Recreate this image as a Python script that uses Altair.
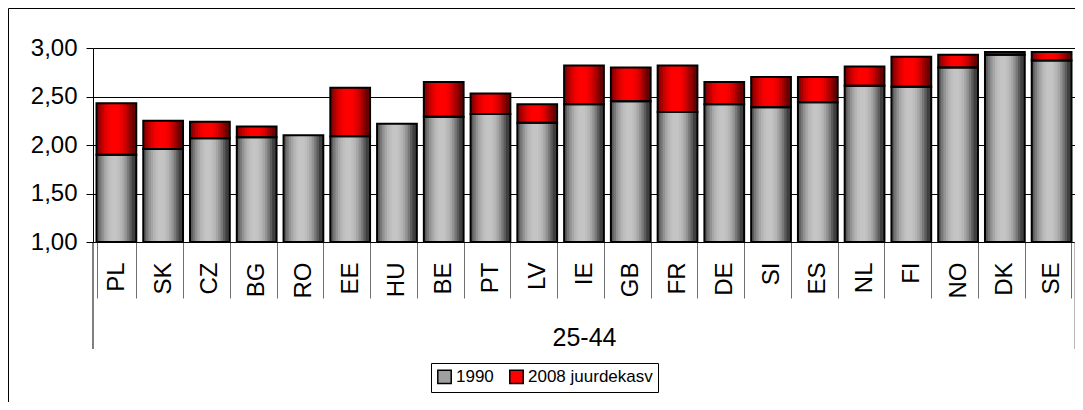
import altair as alt
import pandas as pd

countries = ["PL", "SK", "CZ", "BG", "RO", "EE", "HU", "BE", "PT", "LV", "IE",
             "GB", "FR", "DE", "SI", "ES", "NL", "FI", "NO", "DK", "SE"]
v1990 = [1.90, 1.96, 2.07, 2.08, 2.10, 2.09, 2.22, 2.29, 2.32, 2.23, 2.42,
         2.45, 2.34, 2.42, 2.39, 2.44, 2.61, 2.60, 2.80, 2.93, 2.87]
v2008 = [2.43, 2.25, 2.24, 2.19, 2.10, 2.59, 2.22, 2.65, 2.53, 2.42, 2.82,
         2.80, 2.82, 2.65, 2.70, 2.70, 2.81, 2.91, 2.93, 2.96, 2.96]
series = ["1990", "2008 juurdekasv"]
group_label = "25-44"
y_ticks = [1.0, 1.5, 2.0, 2.5, 3.0]

df = pd.DataFrame({"country": countries, "v1990": v1990, "v2008": v2008})
df_inc = df[df["v2008"] > df["v1990"]]
df_leg = pd.DataFrame({"country": [countries[0], countries[0]],
                       "value": [v1990[0], v2008[0]], "series": series})

FONT = "Liberation Sans"
W, H = 982, 194

# shading bands (edge -> centre) imitating the horizontal gradient fill
band_widths = [1.0, 0.88, 0.76, 0.64, 0.52, 0.40, 0.28, 0.16]
gray_shades = ["#3f3f3f", "#5c5c5c", "#787878", "#929292", "#a6a6a6",
               "#b5b5b5", "#bebebe", "#c4c4c4"]
red_shades = ["#6a0000", "#880000", "#a60000", "#c40000", "#dc0000",
              "#ee0000", "#fa0000", "#ff0000"]

xscale = alt.Scale(domain=countries, paddingInner=0.15, paddingOuter=0.075)
yscale = alt.Scale(domain=[1, 3], nice=False, zero=False)

xaxis = alt.Axis(title=group_label, labelAngle=-90, labelAlign="right",
                 labelBaseline="middle", labelPadding=-36, tickBand="extent",
                 tickSize=56, tickColor="#707070", tickWidth=1,
                 domainColor="black", domainWidth=1, labelFontSize=24,
                 labelFont=FONT, labelColor="black", titleFont=FONT,
                 titleFontSize=25, titleFontWeight="normal", titleColor="black",
                 titleY=95, titleBaseline="middle", grid=False)
yaxis = alt.Axis(title=None, values=y_ticks,
                 labelExpr="replace(format(datum.value, '.2f'), '.', ',')",
                 labelFont=FONT, labelFontSize=24, labelColor="black",
                 labelPadding=9, tickSize=7, tickColor="black",
                 domainColor="black", grid=True, gridColor="black",
                 gridWidth=1)

layers = []
for i, (bw, col) in enumerate(zip(band_widths, gray_shades)):
    if i == 0:
        xe = alt.X("country:N", scale=xscale, sort=countries, axis=xaxis)
        ye = alt.Y("v1990:Q", scale=yscale, axis=yaxis)
    else:
        xe = alt.X("country:N", sort=countries)
        ye = alt.Y("v1990:Q")
    layers.append(alt.Chart(df).mark_bar(
        color=col, width=alt.RelativeBandSize(bw),
        xOffset=-2 if i > 0 else 0).encode(x=xe, y=ye, y2=alt.datum(1)))
for i, (bw, col) in enumerate(zip(band_widths, red_shades)):
    layers.append(alt.Chart(df_inc).mark_bar(
        color=col, width=alt.RelativeBandSize(bw),
        xOffset=-2 if i > 0 else 0).encode(
        x=alt.X("country:N", sort=countries),
        y=alt.Y("v1990:Q"), y2="v2008:Q"))

# outlines
layers.append(alt.Chart(df_inc).mark_bar(
    fillOpacity=0, stroke="black", strokeWidth=2).encode(
    x=alt.X("country:N", sort=countries), y=alt.Y("v1990:Q"), y2="v2008:Q"))
layers.append(alt.Chart(df).mark_bar(
    fillOpacity=0, stroke="black", strokeWidth=2).encode(
    x=alt.X("country:N", sort=countries), y=alt.Y("v1990:Q"), y2=alt.datum(1)))

layers.append(alt.Chart(df_leg).mark_square(opacity=0).encode(
    x=alt.X("country:N", sort=countries),
    y=alt.Y("value:Q"),
    color=alt.Color("series:N", sort=series,
                    scale=alt.Scale(domain=series, range=["#a0a0a0", "#ff0000"]),
                    legend=alt.Legend(title=None, orient="none", legendX=338,
                                      legendY=315, direction="horizontal",
                                      strokeColor="black", padding=5,
                                      symbolType="square", symbolSize=180,
                                      symbolOpacity=1, symbolStrokeColor="black",
                                      symbolStrokeWidth=1.5, labelFont=FONT,
                                      labelFontSize=17, labelColor="black",
                                      columnPadding=12, labelOffset=3)),
))

one = pd.DataFrame({"a": [0]})
layers.append(alt.Chart(one).mark_rule(color="black", strokeWidth=1).encode(
    x=alt.value(0), y=alt.value(H), y2=alt.value(H + 107)))
layers.append(alt.Chart(one).mark_rule(color="#707070", strokeWidth=1).encode(
    x=alt.value(W), y=alt.value(H), y2=alt.value(H + 107)))
# outer chart frame (top and left edges are inside the picture)
layers.append(alt.Chart(one).mark_rule(color="black", strokeWidth=1).encode(
    x=alt.value(-84.5), x2=alt.value(W), y=alt.value(-39.5)))
layers.append(alt.Chart(one).mark_rule(color="black", strokeWidth=1).encode(
    x=alt.value(-84.5), y=alt.value(-39.5), y2=alt.value(360)))

chart = alt.layer(*layers).properties(
    width=W, height=H,
    autosize=alt.AutoSizeParams(type="none"),
    padding={"left": 85, "top": 40, "right": 0, "bottom": 160},
).configure_view(stroke="#8a8a8a", strokeWidth=1.5).configure(background="white")

chart.save("out.html", embed_options={"renderer": "svg", "actions": False})
